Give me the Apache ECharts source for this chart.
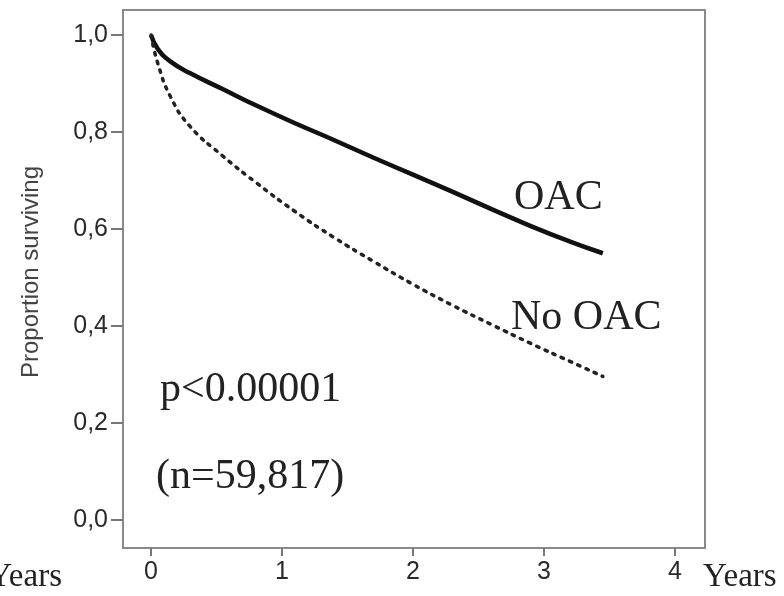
<!DOCTYPE html>
<html>
<head>
<meta charset="utf-8">
<script src="https://cdn.jsdelivr.net/npm/echarts@6/dist/echarts.min.js"></script>
<style>
  html, body { margin: 0; padding: 0; background: #fff; }
  #main { width: 784px; height: 596px; }
</style>
</head>
<body>
<div id="main"></div>
<script>
// survival curves (years -> proportion surviving)
var years    = [0, 0.05, 0.15, 0.3, 0.55, 0.8, 1.1, 1.4, 1.7, 2.0, 2.3, 2.6, 2.9, 3.2, 3.45]
var oac      = [1.0, 0.972, 0.945, 0.921, 0.888, 0.855, 0.818, 0.783, 0.747, 0.712, 0.677, 0.641, 0.606, 0.574, 0.55]
var noOac    = [1.0, 0.943, 0.872, 0.811, 0.75, 0.696, 0.636, 0.582, 0.533, 0.486, 0.443, 0.403, 0.364, 0.327, 0.296]
var xTicks   = [0, 1, 2, 3, 4]
var yTicks   = [0, 0.2, 0.4, 0.6, 0.8, 1.0]

var serif = '"Liberation Serif", "DejaVu Serif", serif'
var sans = '"Liberation Sans", Arial, sans-serif'

function pairs(xs, ys) {
  return xs.map(function (x, i) { return [x, ys[i]] })
}

var myChart = echarts.init(document.getElementById('main'), null, { renderer: 'canvas' })

myChart.setOption({
  animation: false,
  backgroundColor: '#fff',
  grid: {
    left: 123, top: 10, right: 79, bottom: 48,
    show: true,
    borderColor: '#8a8a8a',
    borderWidth: 2,
    backgroundColor: 'transparent'
  },
  xAxis: {
    type: 'value',
    min: -0.214,
    max: 4.23,
    splitLine: { show: false },
    axisLine: { onZero: false, lineStyle: { color: '#8a8a8a', width: 2 } },
    axisTick: { customValues: xTicks, length: 8, lineStyle: { color: '#777', width: 2 } },
    axisLabel: {
      customValues: xTicks,
      margin: 12,
      fontFamily: sans,
      fontSize: 25,
      color: '#2a2a2a'
    }
  },
  yAxis: {
    type: 'value',
    min: -0.0577,
    max: 1.0515,
    splitLine: { show: false },
    axisLine: { onZero: false, lineStyle: { color: '#8a8a8a', width: 2 } },
    axisTick: { customValues: yTicks, length: 12, lineStyle: { color: '#777', width: 2 } },
    axisLabel: {
      customValues: yTicks,
      margin: 15,
      fontFamily: sans,
      fontSize: 25,
      color: '#2a2a2a',
      formatter: function (v) { return v.toFixed(1).replace('.', ',') }
    }
  },
  series: [
    {
      name: 'OAC',
      type: 'line',
      smooth: true,
      showSymbol: false,
      data: pairs(years, oac),
      lineStyle: { color: '#111', width: 4.5 }
    },
    {
      name: 'No OAC',
      type: 'line',
      smooth: true,
      showSymbol: false,
      data: pairs(years, noOac),
      lineStyle: { color: '#222', width: 3.5, type: [2.5, 6.5], cap: 'round' }
    }
  ],
  graphic: [
    // y axis title, rotated
    { type: 'text', x: 31, y: 272, rotation: Math.PI / 2,
      style: { text: 'Proportion surviving', align: 'center', verticalAlign: 'middle', font: '24px ' + sans, fill: '#444' } },
    { type: 'text', style: { text: 'OAC', x: 514, y: 198, verticalAlign: 'middle', font: '42px ' + serif, fill: '#222' } },
    { type: 'text', style: { text: 'No OAC', x: 511, y: 318, verticalAlign: 'middle', font: '42px ' + serif, fill: '#222' } },
    { type: 'text', style: { text: 'p<0.00001', x: 160, y: 390, verticalAlign: 'middle', font: '42px ' + serif, fill: '#222' } },
    { type: 'text', style: { text: '(n=59,817)', x: 156, y: 477, verticalAlign: 'middle', font: '42px ' + serif, fill: '#222' } },
    { type: 'text', style: { text: 'Years', x: 703, y: 577, verticalAlign: 'middle', font: '33px ' + serif, fill: '#222' } },
    { type: 'text', style: { text: 'Years', x: 62, y: 577, align: 'right', verticalAlign: 'middle', font: '33px ' + serif, fill: '#222' } }
  ]
})

window.addEventListener('resize', function () {
  myChart.resize()
})
</script>
</body>
</html>
